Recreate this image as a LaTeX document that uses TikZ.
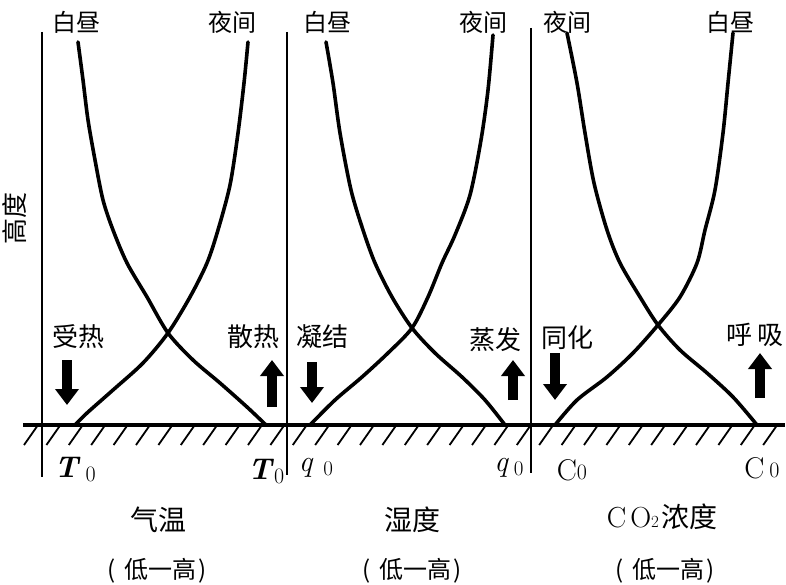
\documentclass[tikz,border=0pt]{standalone}
\usepackage{fontspec}
\usetikzlibrary{arrows.meta}
\newfontfamily\cjk{Noto Sans CJK SC}

\begin{document}
\begin{tikzpicture}[x=1pt,y=-1pt,
  curve/.style={line width=3.6pt,line cap=round,line join=round},
  axis/.style={line width=1.8pt},
  ground/.style={line width=4pt},
  hatch/.style={line width=1.8pt},
  flux/.style={line width=10pt,-{Triangle[length=16pt,width=23pt]}},
  toplabel/.style={font=\cjk\fontsize{24}{24}\selectfont,inner sep=0pt},
  fluxlabel/.style={font=\cjk\fontsize{26}{26}\selectfont,inner sep=0pt},
  title/.style={font=\cjk\fontsize{28}{28}\selectfont,inner sep=0pt},
  scalelabel/.style={font=\cjk\fontsize{24}{24}\selectfont,inner sep=0pt},
  sym/.style={font=\fontsize{30}{30}\selectfont,inner sep=0pt}]
  \def\g{425};
  \useasboundingbox (0,0) rectangle (786,585);
  % axes and ground
  \draw[axis] (42,32)--(42,477);
  \draw[axis] (287,32)--(287,475);
  \draw[axis] (531,28)--(531,473);
  \draw[ground] (23,\g)--(785,\g);
  \foreach \i in {0,...,33}
    \draw[hatch] (38+22.4*\i,\g)--++(-14,20);
  % profiles
  \draw[curve] plot[smooth] coordinates {(78,42) (83,80) (88,120) (95,160) (103,200) (113,230) (127,263) (147,297) (168,333) (193,360) (220,383) (247,407) (266,\g)};
  \draw[curve] plot[smooth] coordinates {(248,42) (244,83) (238,133) (230,185) (218,230) (207,263) (190,297) (168,333) (143,363) (113,390) (87,413) (75,\g)};
  \draw[curve] plot[smooth] coordinates {(326,42) (333,83) (340,133) (351,190) (363,230) (375,263) (392,297) (412,328) (435,353) (462,377) (485,400) (505,\g)};
  \draw[curve] plot[smooth] coordinates {(493,35) (488,90) (481,140) (470,195) (455,235) (442,263) (428,297) (412,328) (388,353) (362,377) (335,400) (310,\g)};
  \draw[curve] plot[smooth] coordinates {(567,33) (577,83) (585,133) (594,183) (607,230) (620,263) (640,297) (658,325) (680,350) (707,373) (733,397) (757,\g)};
  \draw[curve] plot[smooth] coordinates {(733,33) (728,83) (723,133) (715,190) (705,230) (697,263) (680,297) (658,325) (633,353) (607,377) (577,400) (555,\g)};
  % fluxes
  \draw[flux] (67,360)--(67,405);
  \draw[flux] (272,407)--(272,360);
  \draw[flux] (312,362)--(312,403);
  \draw[flux] (513,400)--(513,360);
  \draw[flux] (555,353)--(555,400);
  \draw[flux] (760,398)--(760,353);
  % labels
  \node[toplabel] (day1) at (76,22) {白昼};
  \node[toplabel] (night1) at (232,22) {夜间};
  \node[toplabel] (day2) at (327,22) {白昼};
  \node[toplabel] (night2) at (483,22) {夜间};
  \node[toplabel] (night3) at (567,22) {夜间};
  \node[toplabel] (day3) at (730,22) {白昼};
  \node[toplabel,rotate=90,font=\cjk\fontsize{26}{26}\selectfont] (height) at (15,218) {高度};
  \node[fluxlabel] (heat) at (78,337) {受热};
  \node[fluxlabel] (cool) at (253,337) {散热};
  \node[fluxlabel] (cond) at (322,337) {凝结};
  \node[fluxlabel] (evap) at (495,340) {蒸发};
  \node[fluxlabel] (assim) at (567,338) {同化};
  \node[fluxlabel] (resp) at (755,335) {呼\hspace{6pt}吸};
  \node[sym] (T1) at (75,470) {\textbf{\textit{T}}\,\raisebox{-4pt}{\fontsize{22}{22}\selectfont 0}};
  \node[sym] (T2) at (266,472) {\textbf{\textit{T}}\raisebox{-4pt}{\fontsize{22}{22}\selectfont 0}};
  \node[sym] (q1) at (316,468) {\textit{q}\,\,\raisebox{-4pt}{\fontsize{21}{21}\selectfont 0}};
  \node[sym] (q2) at (509,468) {\textit{q}\,\raisebox{-4pt}{\fontsize{21}{21}\selectfont 0}};
  \node[sym] (c1) at (572,470) {C\raisebox{1pt}{\fontsize{22}{22}\selectfont 0}};
  \node[sym] (c2) at (762,468) {C\,\raisebox{1pt}{\fontsize{22}{22}\selectfont 0}};
  \node[title] (temp) at (158,520) {气温};
  \node[title] (hum) at (412,520) {湿度};
  \node[title] (co2) at (662,517) {{\rmfamily\fontsize{29}{29}\selectfont C\kern4pt O}{\rmfamily\fontsize{17}{17}\selectfont 2}\kern2pt浓度};
  \node[scalelabel] (scale1) at (157,571) {(\hspace{9pt}低一高\hspace{2pt})};
  \node[scalelabel] (scale2) at (412,571) {(\hspace{9pt}低一高\hspace{2pt})};
  \node[scalelabel] (scale3) at (665,571) {(\hspace{9pt}低一高\hspace{2pt})};
\end{tikzpicture}
\end{document}
